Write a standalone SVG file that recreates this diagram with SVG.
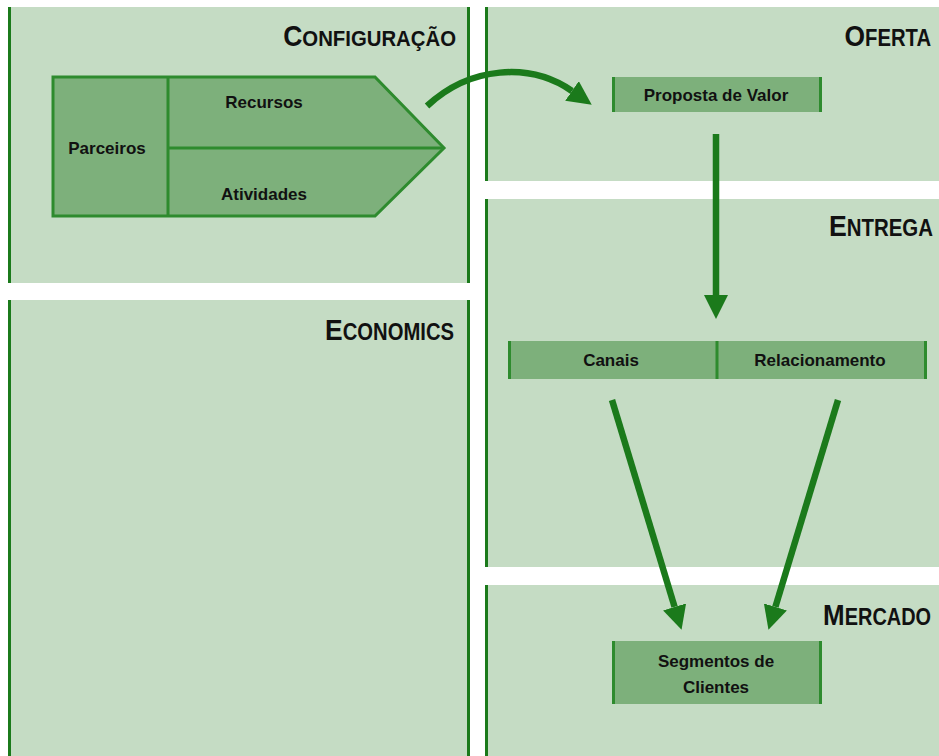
<svg xmlns="http://www.w3.org/2000/svg" width="939" height="756" viewBox="0 0 939 756">
  <style>
    .panel { fill: #c5dcc4; }
    .edge { stroke: #1b7a1b; stroke-width: 3; fill: none; }
    .head { font-family: "Liberation Sans", Arial, sans-serif; font-weight: bold; font-size: 23px; fill: #111; text-anchor: end; }
    .cap { font-size: 30px; }
    .box { fill: #7db07b; }
    .box-line { stroke: #2e8b2e; stroke-width: 3; fill: none; }
    .label { font-family: "Liberation Sans", Arial, sans-serif; font-weight: bold; font-size: 17px; fill: #111; text-anchor: middle; }
    .flow { stroke: #1b7a1b; stroke-width: 6.5; fill: none; }
  </style>
  <defs>
    <marker id="arrow" markerUnits="userSpaceOnUse" markerWidth="24" markerHeight="24" viewBox="0 0 22 22" refX="0" refY="11" orient="auto">
      <path d="M0,0 L22,11 L0,22 z" fill="#1b7a1b"/>
    </marker>
  </defs>

  <rect width="939" height="756" fill="#ffffff"/>

  <!-- Panels (headings use a horizontally condensed small-caps look) -->
  <g id="panel-configuracao">
    <rect class="panel" x="8" y="7" width="462" height="276"/>
    <line class="edge" x1="9.5" y1="7" x2="9.5" y2="283"/>
    <line class="edge" x1="468.5" y1="7" x2="468.5" y2="283"/>
    <text class="head" transform="translate(456,46) scale(0.885,1)"><tspan class="cap">C</tspan>ONFIGURAÇÃO</text>
  </g>
  <g id="panel-economics">
    <rect class="panel" x="8" y="300" width="462" height="456"/>
    <line class="edge" x1="9.5" y1="300" x2="9.5" y2="756"/>
    <line class="edge" x1="468.5" y1="300" x2="468.5" y2="756"/>
    <text class="head" transform="translate(454,340) scale(0.88,1)"><tspan class="cap">E</tspan>CONOMICS</text>
  </g>
  <g id="panel-oferta">
    <rect class="panel" x="485" y="7" width="454" height="174"/>
    <line class="edge" x1="486.5" y1="7" x2="486.5" y2="181"/>
    <text class="head" transform="translate(931,46) scale(0.88,1)"><tspan class="cap">O</tspan>FERTA</text>
  </g>
  <g id="panel-entrega">
    <rect class="panel" x="485" y="199" width="454" height="368"/>
    <line class="edge" x1="486.5" y1="199" x2="486.5" y2="567"/>
    <text class="head" transform="translate(933,236) scale(0.888,1)"><tspan class="cap">E</tspan>NTREGA</text>
  </g>
  <g id="panel-mercado">
    <rect class="panel" x="485" y="585" width="454" height="171"/>
    <line class="edge" x1="486.5" y1="585" x2="486.5" y2="756"/>
    <text class="head" transform="translate(931,625) scale(0.866,1)"><tspan class="cap">M</tspan>ERCADO</text>
  </g>

  <!-- Nodes -->
  <g id="node-infraestrutura">
    <polygon class="box" points="53,77 375,77 444,148 375,216 53,216"/>
    <polygon class="box-line" points="53,77 375,77 444,148 375,216 53,216" stroke-linejoin="miter"/>
    <line class="box-line" x1="168" y1="77" x2="168" y2="216"/>
    <line class="box-line" x1="168" y1="148" x2="444" y2="148"/>
    <text class="label" x="107" y="154">Parceiros</text>
    <text class="label" x="264" y="108">Recursos</text>
    <text class="label" x="264" y="200">Atividades</text>
  </g>
  <g id="node-proposta">
    <rect class="box" x="612" y="77" width="210" height="35"/>
    <line class="box-line" x1="613.5" y1="77" x2="613.5" y2="112"/>
    <line class="box-line" x1="820.5" y1="77" x2="820.5" y2="112"/>
    <text class="label" x="716" y="101">Proposta de Valor</text>
  </g>
  <g id="node-canais">
    <rect class="box" x="508" y="341" width="419" height="38"/>
    <line class="box-line" x1="509.5" y1="341" x2="509.5" y2="379"/>
    <line class="box-line" x1="717" y1="341" x2="717" y2="379"/>
    <line class="box-line" x1="925.5" y1="341" x2="925.5" y2="379"/>
    <text class="label" x="611" y="366">Canais</text>
    <text class="label" x="820" y="366">Relacionamento</text>
  </g>
  <g id="node-segmentos">
    <rect class="box" x="612" y="641" width="210" height="63"/>
    <line class="box-line" x1="613.5" y1="641" x2="613.5" y2="704"/>
    <line class="box-line" x1="820.5" y1="641" x2="820.5" y2="704"/>
    <text class="label" x="716" y="667">Segmentos de</text>
    <text class="label" x="716" y="693">Clientes</text>
  </g>

  <!-- Connectors -->
  <g id="connectors">
    <path class="flow" d="M427,106 C470,66 530,62 572,91" marker-end="url(#arrow)"/>
    <path class="flow" d="M716,134 L716,295" marker-end="url(#arrow)"/>
    <path class="flow" d="M612,400 L674.6,606.9" marker-end="url(#arrow)"/>
    <path class="flow" d="M838,400 L775.4,606.9" marker-end="url(#arrow)"/>
  </g>
</svg>
